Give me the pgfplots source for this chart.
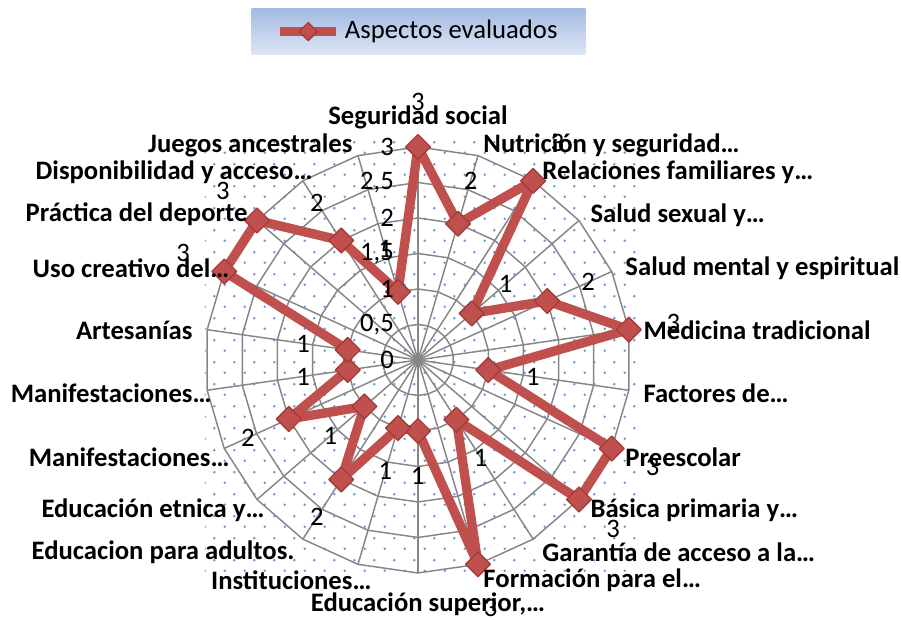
\documentclass[border=0pt]{standalone}
\usepackage{fontspec}
\setmainfont{Carlito}
\usepackage{pgfplots}
\pgfplotsset{compat=1.18}
\usepackage{pgfplotstable}
\usetikzlibrary{patterns}

\definecolor{serie}{HTML}{C0504D}
\definecolor{seriedk}{HTML}{A33C39}
\definecolor{rejilla}{HTML}{868686}
\definecolor{puntos}{HTML}{6F9AD6}
\definecolor{legtop}{HTML}{A3BAE3}
\definecolor{legbot}{HTML}{DEE6F4}

% staggered dot pattern of the plot area
\pgfdeclarepatternformonly{sdots}{\pgfpointorigin}{\pgfqpoint{7.5pt}{8.25pt}}{\pgfqpoint{7.5pt}{8.25pt}}{%
  \pgfpathcircle{\pgfqpoint{1.875pt}{2.0625pt}}{0.55pt}%
  \pgfpathcircle{\pgfqpoint{5.625pt}{6.1875pt}}{0.55pt}%
  \pgfusepath{fill}}

% angle (deg, ccw from east), value, category, where its label sits
\pgfplotstableread[col sep=semicolon]{
a;v;name;lx;ly
90;3;Seguridad social;0;3.42
73.636;2;Nutrición y seguridad…;0.915;3.028
57.273;3;Relaciones familiares y…;1.746;2.648
40.909;1;Salud sexual y…;2.423;2.042
24.545;2;Salud mental y espiritual;2.915;1.296
8.182;3;Medicina tradicional;3.169;0.423
-8.182;1;Factores de…;3.169;-0.465
-24.545;3;Preescolar;2.915;-1.366
-40.909;3;Básica primaria y…;2.423;-2.113
-57.273;1;Garantía de acceso a la…;1.746;-2.704
-73.636;3;Formación para el…;0.915;-3.099
-90;1;Educación superior,…;0.141;-3.437
-106.364;1;Instituciones…;-0.648;-3.099
-122.727;2;Educacion para adultos.;-1.732;-2.704
-139.091;1;Educación etnica y…;-2.155;-2.113
-155.455;2;Manifestaciones…;-2.648;-1.366
-171.818;1;Manifestaciones…;-2.901;-0.465
171.818;1;Artesanías;-3.169;0.423
155.455;3;Uso creativo del…;-2.648;1.296
139.091;3;Práctica del deporte;-2.394;2.056
122.727;2;Disponibilidad y acceso…;-1.479;2.648
106.364;1;Juegos ancestrales;-0.915;3.028
}\cats

\pgfplotsset{
  lbl/.style={draw=none, mark=none, forget plot,
    nodes near coords={\bfseries\pgfplotspointmeta},
    point meta=explicit symbolic,
    nodes near coords style={anchor=#1, inner sep=0pt, text=black}},
}

\begin{document}
\fontsize{10}{12}\selectfont
\begin{tikzpicture}
\begin{axis}[
  set layers,
  hide axis,
  clip=false,
  x=26.625pt, y=26.625pt,
  xmin=-5.887, xmax=6.817,
  ymin=-3.662, ymax=5.070,
  /pgf/number format/.cd, use comma, assume math mode=true,
  /pgfplots/.cd,
  legend style={at={(0.464,0.949)}, anchor=center, draw=none,
    top color=legtop, bottom color=legbot,
    inner xsep=9pt, inner ysep=3pt,
    nodes={inner sep=1.5pt}},
  legend image code/.code={
    \draw[mark repeat=2, mark phase=2, #1, mark size=2.4pt]
      plot coordinates {(0pt,0pt) (10.5pt,0pt) (21pt,0pt)};}
]
\begin{pgfonlayer}{axis background}
  \fill[pattern=sdots, pattern color=puntos] (axis cs:-3.0,-3.07) rectangle (axis cs:3.07,3.1);
\end{pgfonlayer}

% polygon rings and spokes
\pgfplotsinvokeforeach{0.5,1,1.5,2,2.5,3}{
  \addplot[rejilla, line width=0.55pt, data cs=polar, forget plot]
    table[x=a, y expr=#1] {\cats} -- cycle;
}
\pgfplotsinvokeforeach{90,73.636,57.273,40.909,24.545,8.182,-8.182,-24.545,-40.909,-57.273,-73.636,-90,-106.364,-122.727,-139.091,-155.455,-171.818,171.818,155.455,139.091,122.727,106.364}{
  \draw[rejilla, line width=0.55pt] (axis cs:0,0) -- ++(#1:79.875pt);
}

\addplot[serie, line width=3.5pt, line join=round,
  mark=square*, mark size=3.3pt,
  mark options={rotate=45, fill=serie, draw=seriedk, line width=0.5pt},
  data cs=polar,
  nodes near coords, point meta=explicit,
  visualization depends on={\thisrow{a} \as \ang},
  nodes near coords style={anchor=center, shift={(\ang:16.9pt)}, text=black}]
  table[x=a, y=v, meta=v] {\cats} -- cycle;
\addlegendentry{Aspectos evaluados}

% category labels
\addplot[lbl=center, skip coords between index={1}{11}, skip coords between index={12}{22}]
  table[x=lx, y=ly, meta=name] {\cats};
\addplot[lbl=west, skip coords between index={0}{1}, skip coords between index={11}{22}]
  table[x=lx, y=ly, meta=name] {\cats};
\addplot[lbl=east, skip coords between index={0}{12}]
  table[x=lx, y=ly, meta=name] {\cats};

% radial axis labels
\addplot[draw=none, mark=none, forget plot,
  nodes near coords, point meta=y,
  nodes near coords style={anchor=east, xshift=-5.5pt, text=black}]
  coordinates {(0,0) (0,0.5) (0,1) (0,1.5) (0,2) (0,2.5) (0,3)};
\end{axis}
\pgfresetboundingbox
\path (current axis.south west) rectangle (current axis.north east);
\end{tikzpicture}
\end{document}
